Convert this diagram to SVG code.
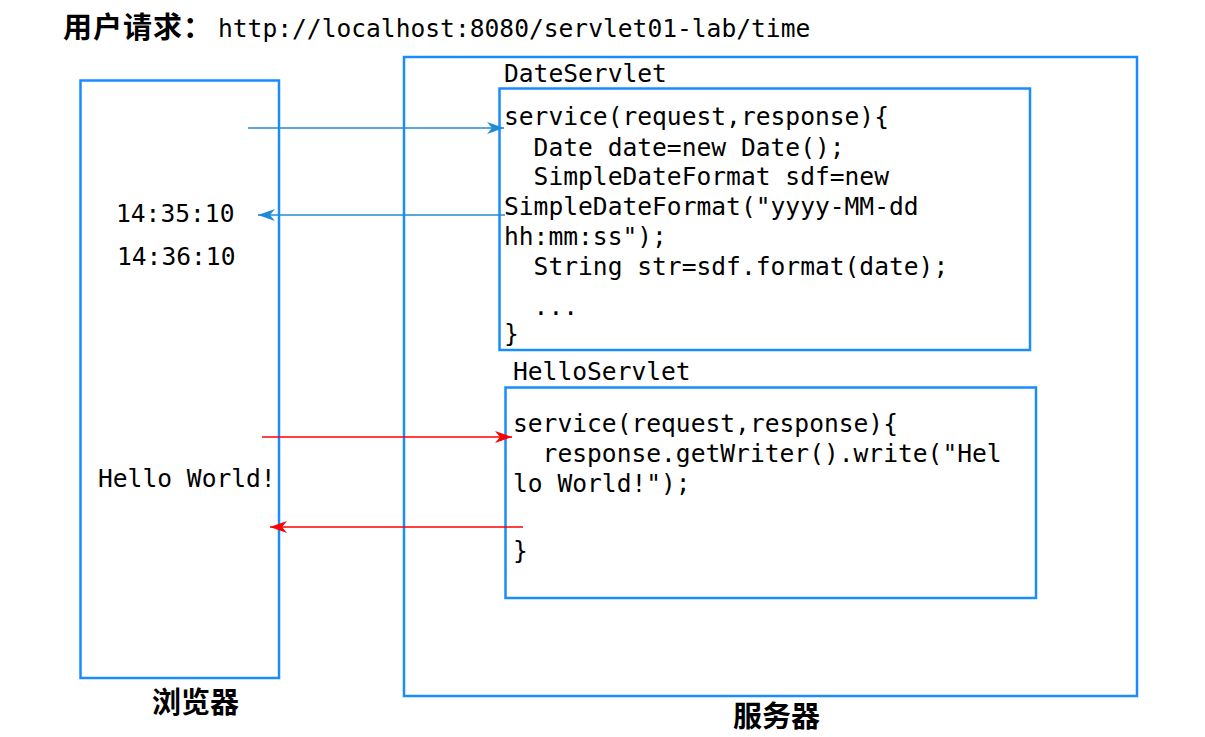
<svg xmlns="http://www.w3.org/2000/svg" width="1205" height="737" viewBox="0 0 1205 737">
<style>
.box{fill:none;stroke:#1a8cff;stroke-width:2.5}
.code{font-family:"DejaVu Sans Mono","Liberation Mono",monospace;font-size:24.6px;fill:#000;white-space:pre}
.cjk{font-family:"Noto Sans CJK SC","Noto Sans CJK JP",sans-serif;font-weight:bold;fill:#000}
.blue{stroke:#1f8ad6;stroke-width:1.5;fill:none}
.red{stroke:#ff0000;stroke-width:1.5;fill:none}
</style>
<defs>
<marker id="ab" markerUnits="userSpaceOnUse" markerWidth="18" markerHeight="14" refX="17" refY="7" orient="auto">
<path d="M0,1 L17,7 L0,13 L5,7 z" fill="#1f8ad6"/>
</marker>
<marker id="ar" markerUnits="userSpaceOnUse" markerWidth="18" markerHeight="14" refX="17" refY="7" orient="auto">
<path d="M0,1 L17,7 L0,13 L5,7 z" fill="#ff0000"/>
</marker>
</defs>
<rect width="1205" height="737" fill="#fff"/>
<g id="title">
<text class="cjk" x="63" y="38" font-size="29" letter-spacing="1">用户请求：</text>
<text class="code" x="218" y="37">http://localhost:8080/servlet01-lab/time</text>
</g>
<g id="browser">
<rect class="box" x="80.5" y="80.5" width="198.5" height="597.5"/>
<text class="code" x="116" y="222">14:35:10</text>
<text class="code" x="117" y="265">14:36:10</text>
<text class="code" x="98" y="487">Hello World!</text>
<text class="cjk" x="152" y="713" font-size="29">浏览器</text>
</g>
<g id="server">
<rect class="box" x="404" y="57" width="733" height="639"/>
<text class="cjk" x="733" y="727" font-size="29">服务器</text>
</g>
<g id="dateservlet">
<text class="code" x="504" y="82">DateServlet</text>
<rect class="box" x="499.5" y="88.5" width="530.5" height="261.5"/>
<text class="code" x="504" y="125">service(request,response){</text>
<text class="code" x="504" y="156" xml:space="preserve">  Date date=new Date();</text>
<text class="code" x="504" y="185" xml:space="preserve">  SimpleDateFormat sdf=new</text>
<text class="code" x="504" y="215">SimpleDateFormat("yyyy-MM-dd</text>
<text class="code" x="504" y="245">hh:mm:ss");</text>
<text class="code" x="504" y="275" xml:space="preserve">  String str=sdf.format(date);</text>
<text class="code" x="504" y="315" xml:space="preserve">  ...</text>
<text class="code" x="504" y="342">}</text>
</g>
<g id="helloservlet">
<text class="code" x="513" y="380">HelloServlet</text>
<rect class="box" x="505.5" y="387.5" width="530.5" height="210.5"/>
<text class="code" x="513" y="432">service(request,response){</text>
<text class="code" x="513" y="462" xml:space="preserve">  response.getWriter().write("Hel</text>
<text class="code" x="513" y="492">lo World!");</text>
<text class="code" x="513" y="559">}</text>
</g>
<g id="connectors">
<line class="blue" x1="248" y1="128" x2="504" y2="128" marker-end="url(#ab)"/>
<line class="blue" x1="505" y1="215" x2="258" y2="215" marker-end="url(#ab)"/>
<line class="red" x1="262" y1="437" x2="512" y2="437" marker-end="url(#ar)"/>
<line class="red" x1="523" y1="527" x2="270" y2="527" marker-end="url(#ar)"/>
</g>
</svg>
